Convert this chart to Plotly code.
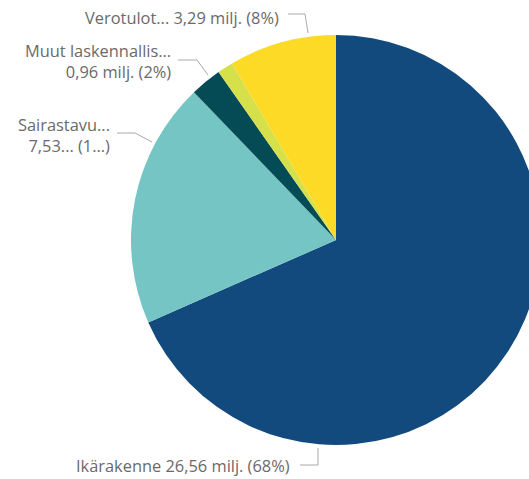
import plotly.graph_objects as go

# ---- data ----
categories = ["Ikärakenne", "Sairastavuus", "Muut laskennalliset kustannukset", "Lisäosat", "Verotuloihin perustuva tasaus"]
values = [26.56, 7.53, 0.96, 0.48, 3.29]
colors = ["#134A7D", "#74C5C4", "#054B56", "#D5E04A", "#FDDA25"]
label_texts = [
    "Ikärakenne 26,56 milj. (68%)",
    "Sairastavu...<br>7,53... (1...)",
    "Muut laskennallis...<br>0,96 milj. (2%)",
    None,
    "Verotulot... 3,29 milj. (8%)",
]

W, H = 545, 479
cx, cy, r = 336, 240, 205

fig = go.Figure()
fig.add_trace(go.Pie(
    labels=categories, values=values, sort=False, direction="clockwise",
    rotation=0, textinfo="none", hoverinfo="label+value+percent",
    marker=dict(colors=colors, line=dict(width=0)),
    domain=dict(x=[(cx - r) / W, (cx + r) / W], y=[(H - cy - r) / H, (H - cy + r) / H]),
    showlegend=False,
))

# label placements (pixel layout): text anchor x, y, and leader polyline
placements = [
    dict(x=292, y=465, lines=[(300, 465), (318, 465), (318, 448)]),
    dict(x=112, y=135, lines=[(117, 133), (135, 133), (152, 142)]),
    dict(x=173, y=61, lines=[(178, 60), (197, 60), (208, 75)]),
    None,
    dict(x=281, y=17, lines=[(288, 14), (305, 14), (308, 33)]),
]

font = dict(family="Open Sans, Segoe UI, sans-serif", size=16.4, color="#6A6A6A")
for txt, p in zip(label_texts, placements):
    if txt is None or p is None:
        continue
    fig.add_annotation(x=p["x"], y=p["y"], xref="x", yref="y", text=txt, showarrow=False,
                       xanchor="right", yanchor="middle", align="right", font=font)
    path = "M " + " L ".join(f"{a},{b}" for a, b in p["lines"])
    fig.add_shape(type="path", path=path, xref="x", yref="y",
                  line=dict(color="#AAAAAA", width=1))

fig.update_layout(
    width=W, height=H, margin=dict(l=0, r=0, t=0, b=0),
    paper_bgcolor="white", plot_bgcolor="rgba(0,0,0,0)",
    xaxis=dict(range=[0, W], visible=False, fixedrange=True),
    yaxis=dict(range=[H, 0], visible=False, fixedrange=True),
)

fig.write_html("out.html", config={"displayModeBar": False},
               post_script="document.body.style.margin='0';document.body.style.overflow='hidden';")
